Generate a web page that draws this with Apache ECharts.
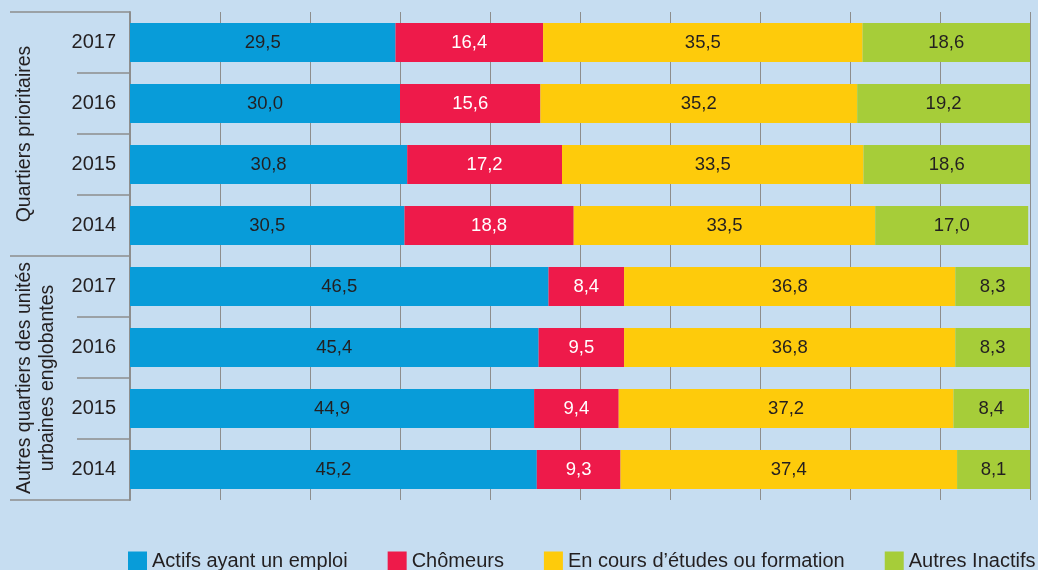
<!DOCTYPE html>
<html lang="fr">
<head>
    <meta charset="UTF-8">
    <title>Situation d'activité</title>
    <script src="https://cdn.jsdelivr.net/npm/echarts@6.0.0/dist/echarts.min.js"></script>
    <style>
        html, body { margin: 0; padding: 0; background: #c6ddf1; }
    </style>
</head>
<body>
    <div id="main" style="width: 1038px; height: 570px;"></div>
    <script>
        const chart = echarts.init(document.getElementById('main'));

        // rows are read top to bottom
        const groups = ['Quartiers prioritaires', 'Autres quartiers des unités\nurbaines englobantes'];
        const years = ['2017', '2016', '2015', '2014'];

        const seriesNames = ['Actifs ayant un emploi', 'Chômeurs', 'En cours d\u2019études ou formation', 'Autres Inactifs'];
        const actifs   = [29.5, 30.0, 30.8, 30.5, 46.5, 45.4, 44.9, 45.2];
        const chomeurs = [16.4, 15.6, 17.2, 18.8, 8.4, 9.5, 9.4, 9.3];
        const etudes   = [35.5, 35.2, 33.5, 33.5, 36.8, 36.8, 37.2, 37.4];
        const inactifs = [18.6, 19.2, 18.6, 17.0, 8.3, 8.3, 8.4, 8.1];

        const colors = ['#089cd9', '#ee1a4a', '#fecb0b', '#a6cd39'];
        const labelColors = ['#231f20', '#ffffff', '#231f20', '#231f20'];

        // one category per group/year pair
        const rows = [];
        groups.forEach(function (g, gi) {
            years.forEach(function (y) {
                rows.push(gi + '|' + y);
            });
        });

        const gridColor = '#8d8d8d';
        const textColor = '#231f20';

        const series = [actifs, chomeurs, etudes, inactifs].map(function (vals, i) {
            return {
                name: seriesNames[i],
                type: 'bar',
                stack: 'total',
                barWidth: 39,
                data: vals,
                itemStyle: { color: colors[i] },
                label: {
                    show: true,
                    position: 'inside',
                    color: labelColors[i],
                    fontFamily: 'Liberation Sans, Arial, sans-serif',
                    fontSize: 18.5,
                    formatter: function (p) {
                        return p.value.toFixed(1).replace('.', ',');
                    }
                },
                emphasis: { disabled: true },
                animation: false
            };
        });

        const option = {
            backgroundColor: '#c6ddf1',
            grid: {
                left: 130,
                right: 8,
                top: 12,
                bottom: 70,
                containLabel: false,
                outerBoundsMode: 'none'
            },
            legend: {
                data: seriesNames,
                left: 128,
                top: 551,
                width: 910,
                padding: 0,
                itemWidth: 19,
                itemHeight: 19,
                itemGap: 40,
                itemStyle: { borderWidth: 0 },
                icon: 'rect',
                textStyle: {
                    color: textColor,
                    fontSize: 20,
                    fontFamily: 'Liberation Sans, Arial, sans-serif'
                }
            },
            xAxis: {
                type: 'value',
                min: 0,
                max: 100,
                interval: 10,
                axisLine: { show: false },
                axisTick: { show: false },
                axisLabel: { show: false },
                splitLine: { show: true, lineStyle: { color: gridColor, width: 1 } }
            },
            yAxis: [
                {
                    type: 'category',
                    data: rows,
                    inverse: true,
                    position: 'left',
                    axisLine: { show: true, lineStyle: { color: gridColor, width: 2 } },
                    axisTick: { show: true, interval: 0, length: 53, lineStyle: { color: gridColor, width: 1.5 } },
                    axisLabel: {
                        interval: 0,
                        margin: 14,
                        color: textColor,
                        fontSize: 20,
                        fontFamily: 'Liberation Sans, Arial, sans-serif',
                        formatter: function (v) { return v.split('|')[1]; }
                    }
                },
                {
                    type: 'category',
                    data: groups,
                    inverse: true,
                    position: 'left',
                    offset: 0,
                    axisLine: { show: false },
                    axisTick: { show: true, interval: 0, length: 120, lineStyle: { color: gridColor, width: 1.5 } },
                    axisLabel: {
                        interval: 0,
                        rotate: 90,
                        margin: 117,
                        align: 'center',
                        verticalAlign: 'top',
                        lineHeight: 23,
                        color: textColor,
                        fontSize: 19.5,
                        fontFamily: 'Liberation Sans, Arial, sans-serif'
                    }
                }
            ],
            series: series
        };

        chart.setOption(option);
    </script>
</body>
</html>
